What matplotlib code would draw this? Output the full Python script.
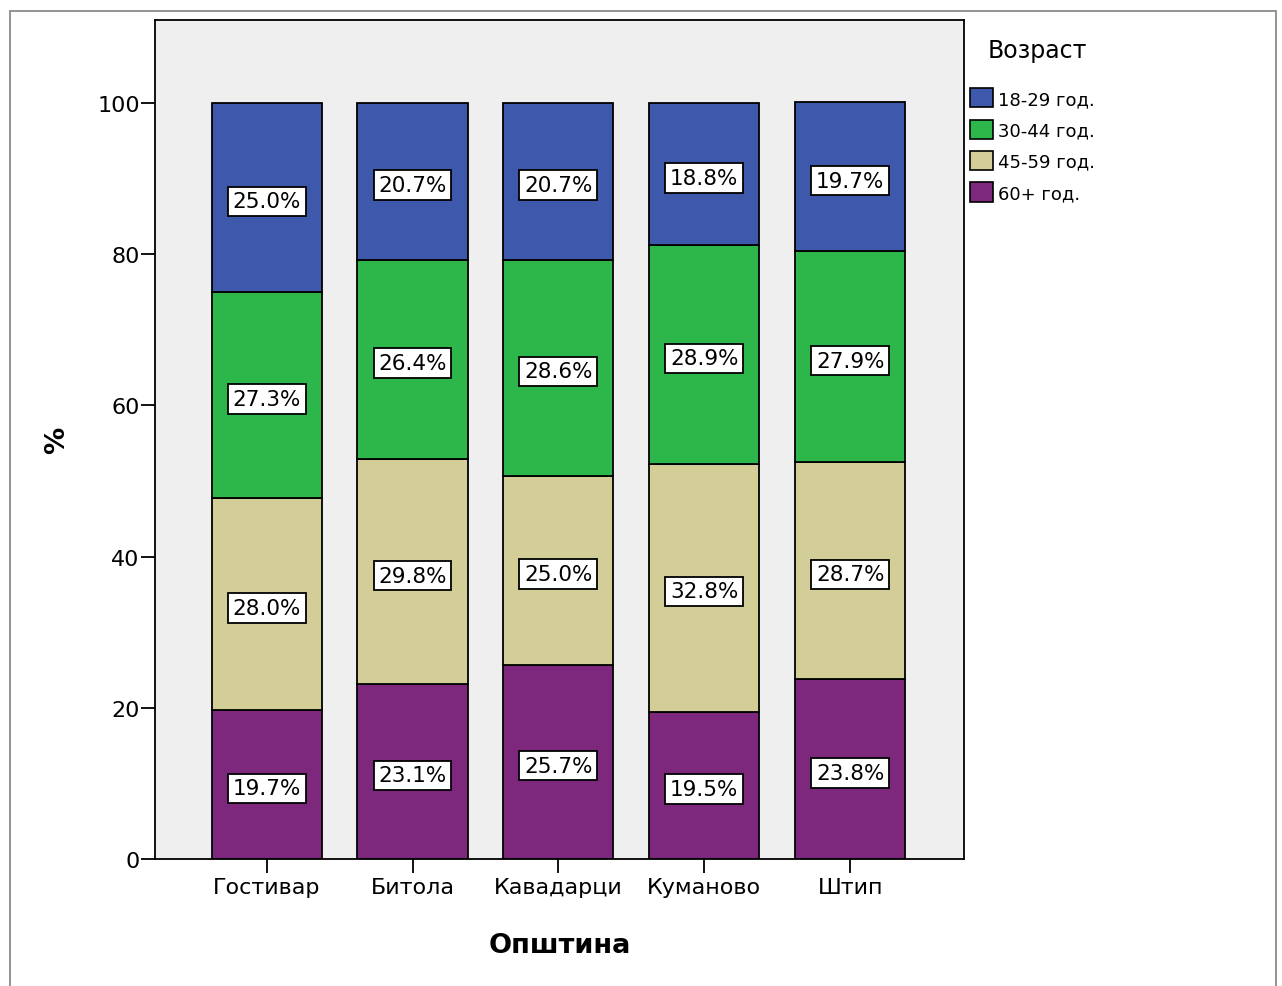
import matplotlib.pyplot as plt
import matplotlib.patches as mpatches
import numpy as np

plt.rcParams['font.family'] = ['DejaVu Sans']

municipalities = ['Гостивар', 'Битола', 'Кавадарци', 'Куманово', 'Штип']
ageGroups = ['18-29 год.', '30-44 год.', '45-59 год.', '60+ год.']

# percentages per age group, one value per municipality
age60plus = [19.7, 23.1, 25.7, 19.5, 23.8]
age45to59 = [28.0, 29.8, 25.0, 32.8, 28.7]
age30to44 = [27.3, 26.4, 28.6, 28.9, 27.9]
age18to29 = [25.0, 20.7, 20.7, 18.8, 19.7]

colors = ['#3E58AC', '#2DB74A', '#D3CE97', '#7D287D']

# stacked from bottom: 60+, 45-59, 30-44, 18-29
stackOrder = [age60plus, age45to59, age30to44, age18to29]
stackColors = [colors[3], colors[2], colors[1], colors[0]]

figure = plt.figure(figsize=(12.82, 9.87), dpi=100)
ax = figure.add_axes([155 / 1282, 127 / 987, 809 / 1282, 839 / 987])
ax.set_facecolor('#EFEFEF')

x = np.arange(len(municipalities))
bottom = np.zeros(len(municipalities))
for values, color in zip(stackOrder, stackColors):
	values = np.array(values)
	ax.bar(x, values, width=0.755, bottom=bottom, color=color, edgecolor='black', linewidth=1.3, zorder=2)
	for xi, b, v in zip(x, bottom, values):
		ax.text(xi, b + v / 2 - 0.5, '%.1f%%' % v, ha='center', va='center', fontsize=15.5, zorder=3,
				bbox=dict(boxstyle='square,pad=0.22', facecolor='white', edgecolor='black', linewidth=1.3))
	bottom = bottom + values

ax.set_xlim(-0.765, 4.78)
ax.set_ylim(0, 111)
ax.set_yticks([0, 20, 40, 60, 80, 100])
ax.set_xticks(x)
ax.set_xticklabels(municipalities)
ax.tick_params(axis='both', labelsize=16, length=10, width=1.3, direction='out')
ax.tick_params(axis='x', pad=3)
ax.tick_params(axis='y', pad=1)
for spine in ax.spines.values():
	spine.set_linewidth(1.3)

ax.set_xlabel('Општина', fontsize=19.5, fontweight='bold', va='center')
ax.xaxis.set_label_coords(0.5, -86 / 839)
ax.set_ylabel('%', fontsize=19.5, fontweight='bold', va='center')
ax.yaxis.set_label_coords(-98 / 809, 0.5)

handles = [mpatches.Patch(facecolor=c, edgecolor='black', linewidth=1.2) for c in colors]
legend = figure.legend(handles, ageGroups, title='Возраст', loc='upper left',
					   bbox_to_anchor=(970 / 1282, 1 - 39 / 987), frameon=False,
					   fontsize=13, title_fontsize=17, handlelength=1.25, handleheight=1.25,
					   handletextpad=0.3, labelspacing=0.65, borderaxespad=0, borderpad=0)
legend._legend_box.align = 'left'
legend._legend_box.sep = 19
legend.get_title().set_position((18, 0))

# outer frame
figure.patches.append(mpatches.Rectangle((10 / 1282, -0.01), 1266 / 1282, 1 - 12 / 987 + 0.01,
										  transform=figure.transFigure, fill=False,
										  edgecolor='#8A8A8A', linewidth=1.3))

figure.savefig('out.png', dpi=100)
plt.close('all')
